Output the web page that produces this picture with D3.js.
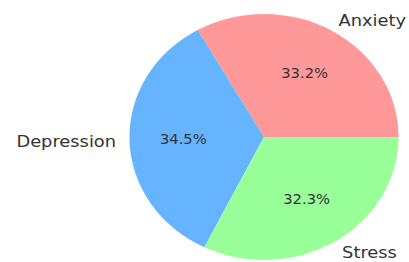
<!DOCTYPE html>
<html>
<head>
<meta charset="utf-8">
<script src="https://cdn.jsdelivr.net/npm/d3@7"></script>
<style>
  body { margin: 0; background: #fff; }
  text { font-family: "DejaVu Sans", sans-serif; fill: #333; }
</style>
</head>
<body>
<svg width="409" height="262"></svg>
<script>
var labels = ['Anxiety', 'Depression', 'Stress'],
    values = [33.2, 34.5, 32.3],
    colors = ['#ff9999', '#66b3ff', '#99ff99'];

var svg = d3.select('svg'),
    radius = 123,
    stretch = 1.094;

var data = labels.map(function(l, i) { return {label: l, value: values[i], color: colors[i]}; });

// matplotlib style: start at 3 o'clock, go counterclockwise
var pie = d3.pie()
            .value(function(d) { return d.value; })
            .sort(null)
            .startAngle(Math.PI / 2)
            .endAngle(Math.PI / 2 - 2 * Math.PI);

var arc = d3.arc().innerRadius(0).outerRadius(radius);

var g = svg.append('g')
           .attr('transform', 'translate(264,137) scale(' + stretch + ',1)');

var arcs = pie(data);

g.selectAll('path')
  .data(arcs)
  .enter().append('path')
    .attr('d', arc)
    .attr('fill', function(d) { return d.data.color; });

function pos(d, k) {
  var a = (d.startAngle + d.endAngle) / 2;
  return [k * radius * Math.sin(a), -k * radius * Math.cos(a)];
}

g.selectAll('.pct')
  .data(arcs)
  .enter().append('text')
    .attr('class', 'pct')
    .attr('x', function(d) { return pos(d, 0.6)[0]; })
    .attr('y', function(d) { return pos(d, 0.6)[1]; })
    .attr('text-anchor', 'middle')
    .attr('dominant-baseline', 'central')
    .style('font-size', '13.5px')
    .text(function(d) { return d.data.value.toFixed(1) + '%'; });

g.selectAll('.lbl')
  .data(arcs)
  .enter().append('text')
    .attr('class', 'lbl')
    .attr('x', function(d) { return pos(d, 1.1)[0]; })
    .attr('y', function(d) { return pos(d, 1.1)[1]; })
    .attr('text-anchor', function(d) { return pos(d, 1.1)[0] > 0 ? 'start' : 'end'; })
    .attr('dominant-baseline', 'central')
    .style('font-size', '16.3px')
    .text(function(d) { return d.data.label; });
</script>
</body>
</html>
